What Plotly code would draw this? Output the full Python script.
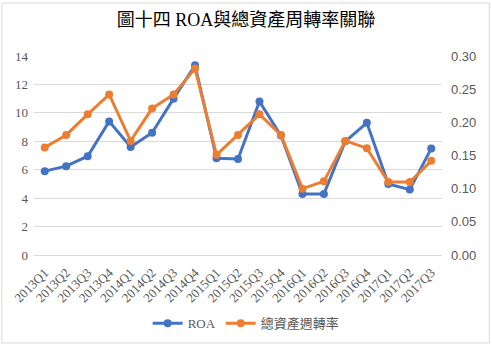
import plotly.graph_objects as go

quarters = ["2013Q1","2013Q2","2013Q3","2013Q4","2014Q1","2014Q2","2014Q3","2014Q4",
            "2015Q1","2015Q2","2015Q3","2015Q4","2016Q1","2016Q2","2016Q3","2016Q4",
            "2017Q1","2017Q2","2017Q3"]
roa = [5.9, 6.25, 6.95, 9.4, 7.6, 8.6, 11.0, 13.35, 6.8, 6.75, 10.8, 8.4, 4.3, 4.3, 8.0, 9.3, 5.0, 4.6, 7.5]
turnover = [0.162, 0.181, 0.212, 0.242, 0.172, 0.221, 0.242, 0.281, 0.151, 0.181, 0.212, 0.181,
            0.100, 0.111, 0.172, 0.161, 0.110, 0.110, 0.142]

BLUE = "#4472C4"
ORANGE = "#ED7D31"
SERIF = "Liberation Serif, Noto Sans CJK TC, serif"
SANS = "Liberation Sans, Noto Sans CJK TC, sans-serif"

fig = go.Figure()
fig.add_trace(go.Scatter(x=quarters, y=roa, name="ROA", mode="lines+markers",
                         line=dict(color=BLUE, width=3), marker=dict(size=8, color=BLUE)))
fig.add_trace(go.Scatter(x=quarters, y=turnover, name="總資產週轉率", mode="lines+markers",
                         yaxis="y2", line=dict(color=ORANGE, width=3), marker=dict(size=8, color=ORANGE)))

fig.update_layout(
    width=492, height=350,
    margin=dict(l=34, r=50, t=56, b=92),
    paper_bgcolor="white", plot_bgcolor="white",
    title=dict(text="圖十四 ROA與總資產周轉率關聯", x=0.5, xanchor="center", y=0.945, yanchor="middle",
               font=dict(family=SERIF, size=18, color="#000000", weight="normal")),
    xaxis=dict(type="category", tickangle=-45, showgrid=False, showline=True, linecolor="#D9D9D9",
               tickfont=dict(family=SERIF, size=13, color="#595959"), ticks="", range=[-0.5, 18.5],
               ticklabelstandoff=4),
    yaxis=dict(range=[0, 14], dtick=2, showgrid=True, gridcolor="#D9D9D9", zeroline=False,
               ticklabelstandoff=5,
               tickfont=dict(family=SERIF, size=13, color="#595959")),
    yaxis2=dict(range=[0, 0.30], dtick=0.05, tickformat=".2f", overlaying="y", side="right",
                showgrid=False, zeroline=False, ticklabelstandoff=8,
                tickfont=dict(family=SANS, size=13, color="#595959")),
    legend=dict(orientation="h", x=0.52, xanchor="center", y=-0.343, yanchor="middle",
                font=dict(family=SERIF, size=13, color="#595959")),
    showlegend=True,
)
fig.add_shape(type="rect", xref="paper", yref="paper", x0=-0.079, x1=1.116, y0=-0.442, y1=1.266,
              line=dict(color="#D9D9D9", width=1), layer="below")

fig.write_html("out.html")
